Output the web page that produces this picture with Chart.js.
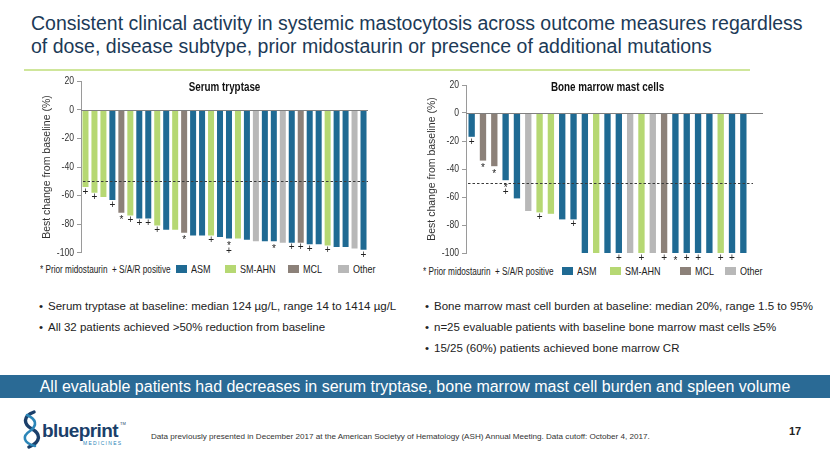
<!DOCTYPE html>
<html>
<head>
<meta charset="utf-8">
<title>Consistent clinical activity in systemic mastocytosis</title>
<script src="https://cdn.jsdelivr.net/npm/chart.js@4.4.1/dist/chart.umd.min.js"></script>
<style>
    body { margin: 0; width: 830px; height: 467px; position: relative; overflow: hidden; background: #fff;
        font-family: "Liberation Sans", Arial, sans-serif; color: #222; }
    .abs { position: absolute; white-space: nowrap; }
    #title { left: 31px; top: 12px; font-size: 19.5px; line-height: 22.5px; color: #1c3a57; }
    #rule { left: 24px; top: 69px; width: 726px; height: 2px; background: #cfe69b; }
    canvas { position: absolute; }
    /* the slide uses Arial Narrow in the charts; squeeze Liberation Sans instead */
    .narrow { display: inline-block; transform: scaleX(0.82); transform-origin: left center; }
    .legend { color: #222; }
    .legend .note { font-size: 10px; }
    .legend .item { font-size: 11px; display: flex; align-items: center; }
    .legend .swatch { width: 11px; height: 8px; margin-right: 4px; }
    .bullets { font-size: 11.5px; color: #222; }
    .bullets div { height: 21px; line-height: 21px; }
    .bullets span { display: inline-block; width: 9px; }
    #banner { left: 0; top: 375px; width: 830px; height: 23px; background: #2a6a95; color: #fff;
        font-size: 16px; line-height: 24px; text-align: center; }
    #footnote { left: 151px; top: 432px; font-size: 8.1px; color: #333; }
    #page { left: 789px; top: 425px; font-size: 11px; font-weight: bold; color: #222; }
    #logo { left: 20px; top: 410px; }
</style>
</head>
<body>
<div id="title" class="abs">Consistent clinical activity in systemic mastocytosis across outcome measures regardless<br>of dose, disease subtype, prior midostaurin or presence of additional mutations</div>
<div id="rule" class="abs"></div>

<canvas id="serum" width="360" height="190" style="left:20px;top:72px"></canvas>
<canvas id="marrow" width="375" height="190" style="left:405px;top:72px"></canvas>

<div id="serumLegend" class="legend"></div>
<div id="marrowLegend" class="legend"></div>

<div class="abs bullets" style="left:39px;top:296px">
    <div><span>•</span>Serum tryptase at baseline: median 124 µg/L, range 14 to 1414 µg/L</div>
    <div><span>•</span>All 32 patients achieved &gt;50% reduction from baseline</div>
</div>
<div class="abs bullets" style="left:425px;top:296px">
    <div><span>•</span>Bone marrow mast cell burden at baseline: median 20%, range 1.5 to 95%</div>
    <div><span>•</span>n=25 evaluable patients with baseline bone marrow mast cells ≥5%</div>
    <div><span>•</span>15/25 (60%) patients achieved bone marrow CR</div>
</div>

<div id="banner" class="abs">All evaluable patients had decreases in serum tryptase, bone marrow mast cell burden and spleen volume</div>

<div id="logo" class="abs">
    <svg width="115" height="40" viewBox="0 0 115 40">
        <path d="M14 2 C3 6 3 14 12 19 C21 24 21 32 9 37" fill="none" stroke="#1b3f6a" stroke-width="3.4" stroke-linecap="round"/>
        <path d="M7 5 C16 9 18 15 10 21 C2 26 3 33 15 36" fill="none" stroke="#2c86b8" stroke-width="2.6" stroke-linecap="round"/>
        <text x="22" y="27" font-family="Liberation Sans, Arial, sans-serif" font-size="19" font-weight="bold" fill="#1b3f6a" letter-spacing="-0.6">blueprint</text>
        <text x="100" y="15" font-family="Liberation Sans, Arial, sans-serif" font-size="4" fill="#1b3f6a">TM</text>
        <text x="63" y="35" font-family="Liberation Sans, Arial, sans-serif" font-size="5" fill="#2c86b8" letter-spacing="1.3">MEDICINES</text>
    </svg>
</div>
<div id="footnote" class="abs">Data previously presented in December 2017 at the American Societyy of Hematology (ASH) Annual Meeting. Data cutoff: October 4, 2017.</div>
<div id="page" class="abs">17</div>

<script>
// ---- data ----
const subtypes = ['ASM', 'SM-AHN', 'MCL', 'Other'];

const serumSubtypes = ['SM-AHN', 'SM-AHN', 'SM-AHN', 'ASM', 'MCL', 'SM-AHN', 'ASM', 'ASM', 'SM-AHN', 'ASM',
    'SM-AHN', 'MCL', 'ASM', 'ASM', 'SM-AHN', 'ASM', 'ASM', 'SM-AHN', 'ASM', 'Other',
    'ASM', 'ASM', 'Other', 'ASM', 'MCL', 'ASM', 'ASM', 'SM-AHN', 'ASM', 'ASM', 'Other', 'ASM'];
const serumChange = [-54, -58, -61, -63, -72, -74, -76, -76, -81, -84,
    -84, -86, -88, -88, -88, -89, -90, -90, -91, -92,
    -92, -92, -93, -93, -93, -94, -94, -95, -96, -96, -97, -98];
// '*' prior midostaurin, '+' S/A/R positive
const serumMarks = ['+', '+', '', '+', '*', '+', '+', '+', '+', '',
    '', '*', '', '', '+', '', '*+', '', '', '',
    '', '*', '', '+', '+', '+', '', '+', '', '', '', '+'];

const marrowSubtypes = ['ASM', 'MCL', 'MCL', 'ASM', 'ASM', 'Other', 'SM-AHN', 'SM-AHN', 'ASM', 'ASM',
    'ASM', 'SM-AHN', 'ASM', 'ASM', 'Other', 'SM-AHN', 'Other', 'MCL', 'ASM', 'ASM',
    'ASM', 'ASM', 'SM-AHN', 'ASM', 'ASM'];
const marrowChange = [-17, -34, -38, -48, -61, -70, -71, -72, -76, -76,
    -100, -100, -100, -100, -100, -100, -100, -100, -100, -100,
    -100, -100, -100, -100, -100];
const marrowMarks = ['+', '*', '*', '*+', '', '', '+', '', '', '+',
    '', '', '', '+', '', '+', '', '+', '*', '+',
    '+', '', '+', '+', ''];

const yTicks = { min: -100, max: 20, step: 20 };

// ---- styling ----
const subtypeColors = { 'ASM': '#1f6a93', 'SM-AHN': '#b6d873', 'MCL': '#8c8179', 'Other': '#b8b8b8' };
const FONT = '"Liberation Sans", Arial, sans-serif';
const SQUEEZE = 0.82;

/** fillText squeezed horizontally, to stand in for Arial Narrow */
function narrowText(ctx, text, x, y) {
    ctx.save();
    ctx.translate(x, y);
    ctx.scale(SQUEEZE, 1);
    ctx.fillText(text, 0, 0);
    ctx.restore();
}

/**
 * Draws tick labels, the zero line, the -50% dashed line, the per-patient markers and the panel title.
 */
const annotate = {
    id: 'annotate',
    afterDatasetsDraw(chart, args, opts) {
        const { ctx, chartArea, scales: { y } } = chart;
        ctx.save();

        ctx.fillStyle = '#333';
        ctx.textAlign = 'right';
        ctx.textBaseline = 'middle';
        ctx.font = `10.5px ${FONT}`;
        y.ticks.forEach(t => narrowText(ctx, String(t.value), chartArea.left - 7, y.getPixelForValue(t.value)));

        const zeroY = Math.round(y.getPixelForValue(0)) + 0.5;
        ctx.strokeStyle = '#808080';
        ctx.lineWidth = 1;
        ctx.beginPath();
        ctx.moveTo(chartArea.left, zeroY);
        ctx.lineTo(chartArea.right + opts.zeroExtend, zeroY);
        ctx.stroke();

        const halfY = Math.round(y.getPixelForValue(-50)) + 0.5;
        ctx.strokeStyle = '#3a3a3a';
        ctx.setLineDash([2.5, 2]);
        ctx.beginPath();
        ctx.moveTo(chartArea.left + 2, halfY);
        ctx.lineTo(chartArea.right + opts.dashExtend, halfY);
        ctx.stroke();
        ctx.setLineDash([]);

        ctx.fillStyle = '#222';
        ctx.textAlign = 'center';
        ctx.font = `10px ${FONT}`;
        chart.getDatasetMeta(0).data.forEach((bar, i) => {
            [...opts.marks[i]].forEach((m, k) => {
                ctx.fillText(m, bar.x, bar.y + (m === '*' ? 8 : 5) + k * 7.5);
            });
        });

        ctx.font = `bold 12px ${FONT}`;
        ctx.fillStyle = '#111';
        narrowText(ctx, opts.title, (chartArea.left + chartArea.right) / 2, opts.titleY);
        ctx.restore();
    }
};

/**
 * Builds one waterfall panel.
 */
function waterfall(canvasId, values, types, marks, opts) {
    return new Chart(document.getElementById(canvasId), {
        type: 'bar',
        data: {
            labels: values.map((_, i) => i + 1),
            datasets: [{
                data: values,
                backgroundColor: types.map(t => subtypeColors[t]),
                borderWidth: 0,
                barPercentage: opts.barPercentage,
                categoryPercentage: 1
            }]
        },
        options: {
            responsive: false,
            animation: false,
            devicePixelRatio: 1,
            layout: { padding: opts.padding },
            plugins: {
                legend: { display: false },
                tooltip: { enabled: false },
                annotate: { marks, title: opts.title, titleY: 16, zeroExtend: opts.zeroExtend, dashExtend: opts.dashExtend }
            },
            scales: {
                x: { display: false },
                y: {
                    min: yTicks.min,
                    max: yTicks.max,
                    ticks: { stepSize: yTicks.step, display: false },
                    grid: { drawOnChartArea: false, tickLength: 4, color: '#9a9a9a' },
                    border: { color: '#9a9a9a' },
                    title: {
                        display: true, text: 'Best change from baseline (%)', color: '#333',
                        font: { family: FONT, size: 10.5 }, padding: { top: 21, bottom: 0 }
                    },
                    afterFit(scale) { scale.width = opts.axisWidth; }
                }
            }
        },
        plugins: [annotate]
    });
}

waterfall('serum', serumChange, serumSubtypes, serumMarks, {
    title: 'Serum tryptase', barPercentage: 0.67, axisWidth: 61,
    padding: { left: 0, right: 12, top: 9.4, bottom: 9.3 }, zeroExtend: 0, dashExtend: 0
});
waterfall('marrow', marrowChange, marrowSubtypes, marrowMarks, {
    title: 'Bone marrow mast cells', barPercentage: 0.56, axisWidth: 61,
    padding: { left: 0, right: 31, top: 13, bottom: 9 }, zeroExtend: 14, dashExtend: 4
});

/**
 * HTML legend under each panel.
 */
function legend(elId, noteLeft, itemLefts, top) {
    const el = document.getElementById(elId);
    el.innerHTML = `<div class="abs note" style="left:${noteLeft}px;top:${top + 1}px"><span class="narrow">* Prior midostaurin&nbsp;&nbsp;+ S/A/R positive</span></div>` +
        subtypes.map((s, i) => `<div class="abs item" style="left:${itemLefts[i]}px;top:${top}px">` +
            `<span class="swatch" style="background:${subtypeColors[s]}"></span><span class="narrow">${s}</span></div>`).join('');
}
legend('serumLegend', 40, [176, 225, 288, 338], 263);
legend('marrowLegend', 423, [562, 610, 680, 725], 265);
</script>
</body>
</html>
